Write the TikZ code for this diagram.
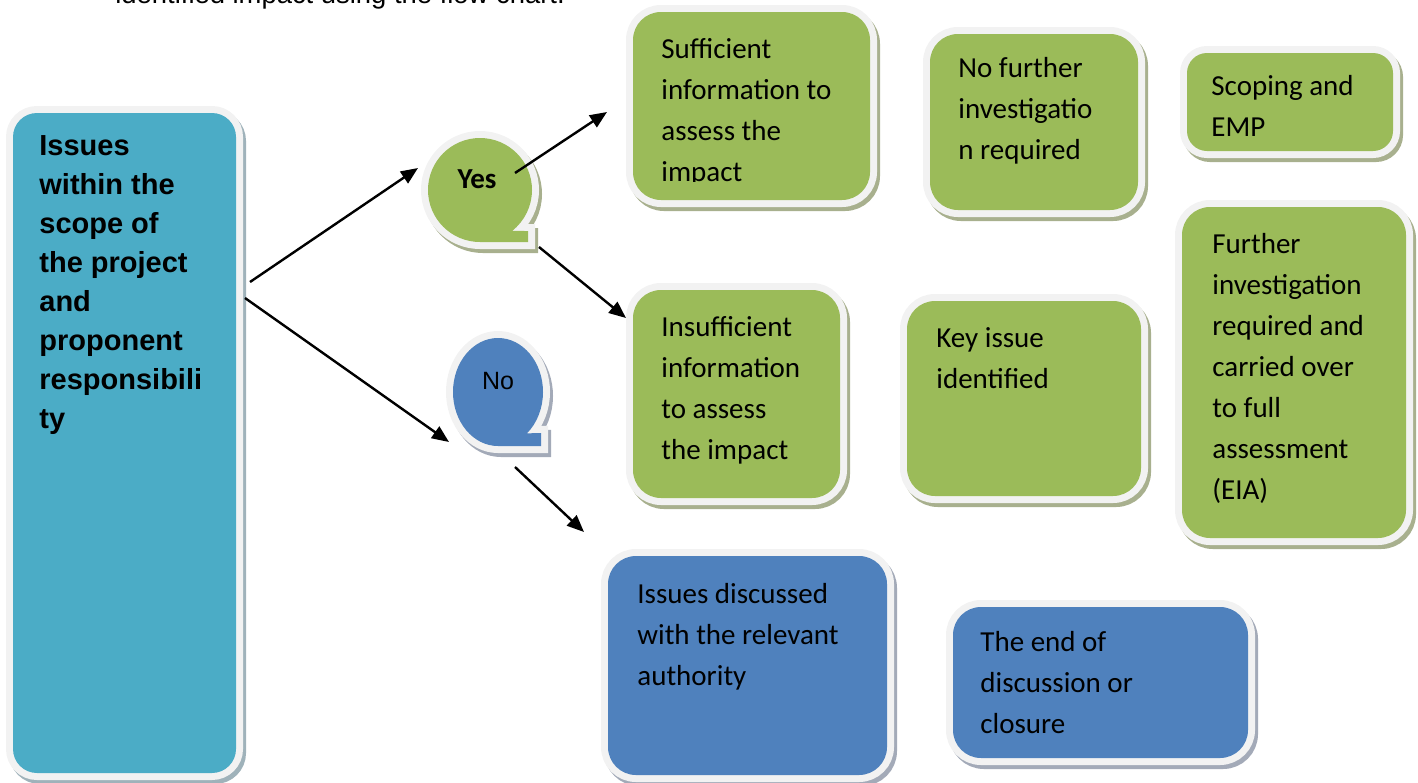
\documentclass[tikz,border=0pt]{standalone}
\usepackage{fontspec}
\setmainfont{Carlito}
\newfontfamily\arialf{Liberation Sans}
\usetikzlibrary{arrows.meta,fit}
\definecolor{gfill}{HTML}{9BBB59}
\definecolor{bfill}{HTML}{4F81BD}
\definecolor{tfill}{HTML}{4BACC6}
\definecolor{rim}{HTML}{F2F2F2}
\definecolor{gshad}{HTML}{A8B08E}
\definecolor{bshad}{HTML}{A3AAB8}
\definecolor{tshad}{HTML}{9FB2BA}
\tikzset{
  gshape/.style={preaction={draw=gshad, line width=7pt, transform canvas={shift={(3,4)}}},
                 preaction={draw=rim, line width=7pt}, fill=gfill},
  bshape/.style={preaction={draw=bshad, line width=7pt, transform canvas={shift={(3,4)}}},
                 preaction={draw=rim, line width=7pt}, fill=bfill},
  tshape/.style={preaction={draw=tshad, line width=7pt, transform canvas={shift={(3,4)}}},
                 preaction={draw=rim, line width=7pt}, fill=tfill},
  boxnode/.style={rectangle, inner sep=0pt, rounded corners=14pt},
  gbox/.style={boxnode, gshape},
  bbox/.style={boxnode, bshape},
  tbox/.style={boxnode, tshape},
  btext/.style={anchor=base west, inner sep=0pt, font=\fontsize{14.5}{20.5}\selectfont},
  ltext/.style={anchor=base west, inner sep=0pt, font=\arialf\bfseries\fontsize{14.5}{19.5}\selectfont},
  arr/.style={line width=1.2pt, -{Triangle[length=8.5pt, width=7pt]}},
}
\begin{document}
\begin{tikzpicture}[x=0.5pt, y=-0.5pt]
\useasboundingbox (0,0) rectangle (1418,782);
\clip (0,0) rectangle (1418,782);

% cut-off heading line
\node[anchor=base west, inner sep=0pt, font=\arialf\fontsize{13.7}{16}\selectfont] (head) at (115,3) {identified impact using the flow chart.};

% left box
\node[tbox, rounded corners=12pt, fit={(13,113) (236,773)}] (scope) {};
\node[ltext] (scopet) at (39,155) {\begin{tabular}[t]{@{}l@{}}Issues\\ within the\\ scope of\\ the project\\ and\\ proponent\\ responsibili\\ ty\end{tabular}};

% green boxes
\node[gbox, fit={(633,12) (870,200)}] (suff) {};
\begin{scope}
\clip (633,12) rectangle (870,181);
\node[btext] (sufft) at (661,58) {\begin{tabular}[t]{@{}l@{}}Sufficient\\ information to\\ assess the\\ impact\end{tabular}};
\end{scope}

\node[gbox, fit={(930,34) (1138,210)}] (nofur) {};
\node[btext] (nofurt) at (958,77) {\begin{tabular}[t]{@{}l@{}}No further\\ investigatio\\ n required\end{tabular}};

\node[gbox, rounded corners=10pt, fit={(1187,53) (1393,151)}] (scop) {};
\node[btext] (scopt) at (1211,95) {\begin{tabular}[t]{@{}l@{}}Scoping and\\ EMP\end{tabular}};

\node[gbox, fit={(633,290) (840,498)}] (insuff) {};
\node[btext] (insufft) at (661,336) {\begin{tabular}[t]{@{}l@{}}Insufficient\\ information\\ to assess\\ the impact\end{tabular}};

\node[gbox, fit={(907,301) (1141,496)}] (key) {};
\node[btext] (keyt) at (936,347) {\begin{tabular}[t]{@{}l@{}}Key issue\\ identified\end{tabular}};

\node[gbox, fit={(1182,207) (1406,538)}] (further) {};
\node[btext] (furthert) at (1212,253) {\begin{tabular}[t]{@{}l@{}}Further\\ investigation\\ required and\\ carried over\\ to full\\ assessment\\ (EIA)\end{tabular}};

% blue boxes
\node[bbox, fit={(608,556) (887,775)}] (disc) {};
\node[btext] (disct) at (637,603) {\begin{tabular}[t]{@{}l@{}}Issues discussed\\ with the relevant\\ authority\end{tabular}};

\node[bbox, fit={(953,607) (1248,758)}] (endb) {};
\node[btext] (endt) at (980,651) {\begin{tabular}[t]{@{}l@{}}The end of\\ discussion or\\ closure\end{tabular}};

% speech bubbles
\path[gshape] (480,242) arc[start angle=90, end angle=412, radius=52] -- (528,231) -- (528,242) -- cycle;
\node[anchor=base, inner sep=0pt, font=\bfseries\fontsize{14.5}{17}\selectfont] (yes) at (477,188) {Yes};

\path[bshape] (498,446) arc[start angle=90, end angle=410, x radius=45, y radius=54] -- (541,433) -- (541,446) -- cycle;
\node[anchor=base, inner sep=0pt, font=\arialf\fontsize{12.5}{15}\selectfont] (no) at (498,389) {No};

% connector end points
\coordinate (s1) at (250,282);
\coordinate (e1) at (418,168);
\coordinate (s2) at (245,298);
\coordinate (e2) at (449,442);
\coordinate (s3) at (515,173);
\coordinate (e3) at (607,112);
\coordinate (s4) at (539,247);
\coordinate (e4) at (626,318);
\coordinate (s5) at (515,467);
\coordinate (e5) at (584,532);

\draw[arr] (s1) -- (e1);
\draw[arr] (s2) -- (e2);
\draw[arr] (s3) -- (e3);
\draw[arr] (s4) -- (e4);
\draw[arr] (s5) -- (e5);
\end{tikzpicture}
\end{document}
